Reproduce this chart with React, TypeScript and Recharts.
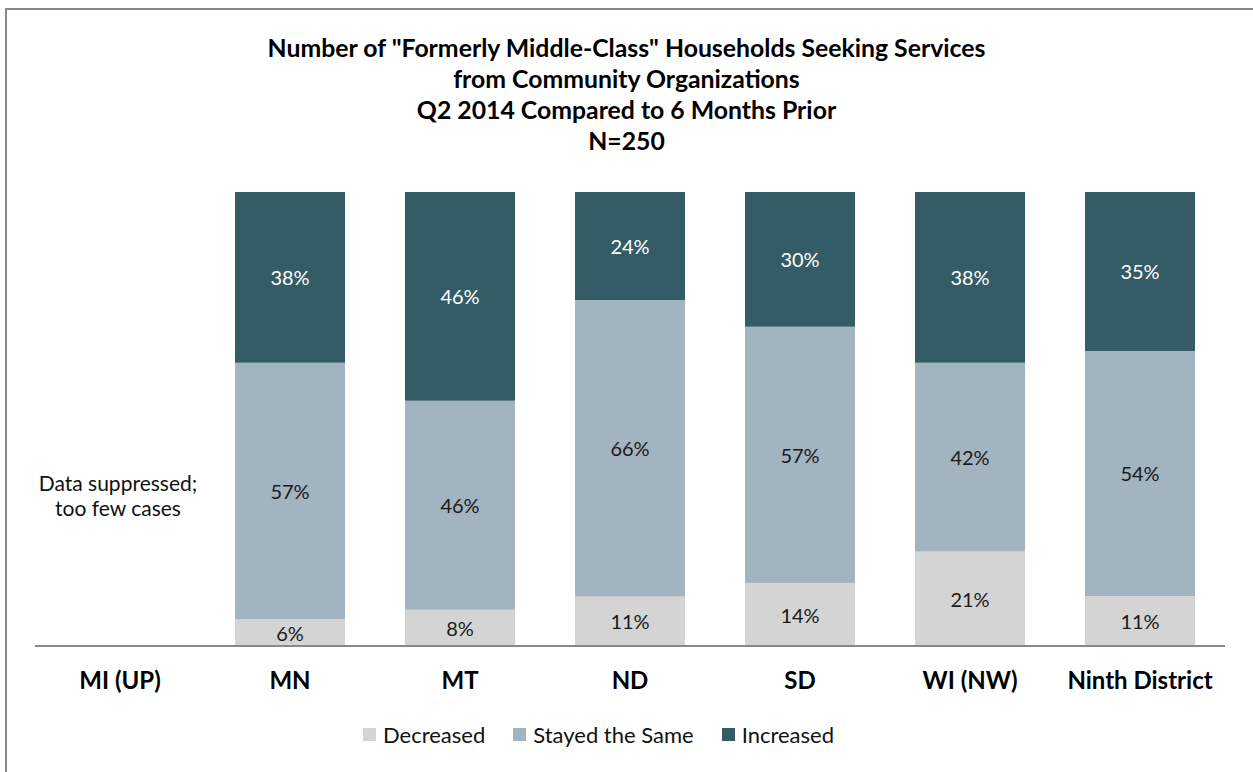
import React from 'react';
import { Bar, BarChart, LabelList, Legend, XAxis, YAxis } from 'recharts';

const regions = ['MI (UP)', 'MN', 'MT', 'ND', 'SD', 'WI (NW)', 'Ninth District'];
const decreased = [null, 6, 8, 11, 14, 21, 11];
const stayedSame = [null, 57, 46, 66, 57, 42, 54];
const increased = [null, 38, 46, 24, 30, 38, 35];

const titleLines = [
  'Number of "Formerly Middle-Class" Households Seeking Services',
  'from Community Organizations',
  'Q2 2014 Compared to 6 Months Prior',
  'N=250',
];

const series = [
  { key: 'decreased', name: 'Decreased', color: '#d4d4d4', text: '#1a1a1a' },
  { key: 'stayed', name: 'Stayed the Same', color: '#a1b4bf', text: '#1a1a1a' },
  { key: 'increased', name: 'Increased', color: '#345c66', text: '#ffffff' },
];

const data = regions.map((region, i) => ({
  region,
  decreased: decreased[i],
  stayed: stayedSame[i],
  increased: increased[i],
}));

const FONT = 'Lato, "Open Sans", sans-serif';

const makeLabel = (fill: string) => (props: any) => {
  const { x, y, width, height, value } = props;
  if (value === null || value === undefined) return null;
  return (
    <text
      x={x + width / 2}
      y={y + height / 2}
      textAnchor="middle"
      dominantBaseline="central"
      fontSize={20}
      fontFamily={FONT}
      fill={fill}
    >
      {value}%
    </text>
  );
};

const renderLegend = () => (
  <div
    style={{
      display: 'flex',
      justifyContent: 'center',
      gap: 28,
      fontFamily: FONT,
      fontSize: 22,
      color: '#111',
      paddingRight: 56,
    }}
  >
    {series.map((s) => (
      <span key={s.key} style={{ display: 'flex', alignItems: 'center', gap: 7 }}>
        <span style={{ width: 13, height: 13, background: s.color, display: 'inline-block' }} />
        {s.name}
      </span>
    ))}
  </div>
);

export default function App() {
  return (
    <div
      style={{
        position: 'absolute',
        left: 0,
        top: 0,
        width: 1253,
        height: 772,
        overflow: 'hidden',
        background: '#fff',
      }}
    >
      <div
        style={{
          position: 'absolute',
          left: 5,
          top: 8,
          width: 1270,
          height: 790,
          border: '2px solid #8a8a8a',
        }}
      />
      <div
        style={{
          position: 'absolute',
          top: 32,
          left: 0,
          width: 1253,
          textAlign: 'center',
          fontFamily: FONT,
          fontWeight: 'bold',
          fontSize: 24.8,
          lineHeight: '31px',
          color: '#000',
        }}
      >
        {titleLines.map((t) => (
          <div key={t}>{t}</div>
        ))}
      </div>
      <div
        style={{
          position: 'absolute',
          top: 470,
          left: 18,
          width: 200,
          textAlign: 'center',
          fontFamily: FONT,
          fontSize: 21,
          lineHeight: '25px',
          color: '#111',
        }}
      >
        Data suppressed;
        <br />
        too few cases
      </div>
      <div style={{ position: 'absolute', left: 0, top: 0 }}>
        <BarChart
          width={1253}
          height={772}
          data={data}
          stackOffset="expand"
          barCategoryGap={30}
          margin={{ top: 192, right: 28, bottom: 66, left: 35 }}
        >
          <XAxis
            dataKey="region"
            height={60}
            axisLine={{ stroke: '#8a8a8a', strokeWidth: 2 }}
            tickLine={false}
            tickSize={0}
            tickMargin={26}
            interval={0}
            tick={{ fontFamily: FONT, fontWeight: 'bold', fontSize: 24, fill: '#000' }}
          />
          <YAxis hide domain={[0, 1]} />
          {series.map((s) => (
            <Bar
              key={s.key}
              dataKey={s.key}
              name={s.name}
              stackId="a"
              fill={s.color}
              isAnimationActive={false}
            >
              <LabelList dataKey={s.key} content={makeLabel(s.text)} />
            </Bar>
          ))}
          <Legend
            layout="horizontal"
            align="center"
            verticalAlign="middle"
            content={renderLegend}
            wrapperStyle={{ top: 721, left: 0, width: 1253 }}
          />
        </BarChart>
      </div>
    </div>
  );
}
